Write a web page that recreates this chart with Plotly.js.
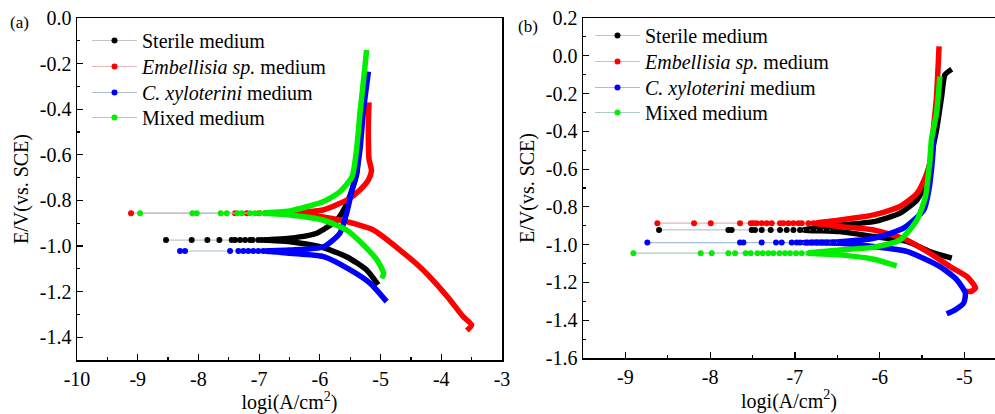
<!DOCTYPE html>
<html>
<head>
<meta charset="utf-8">
<script src="https://cdn.plot.ly/plotly-3.0.1.min.js"></script>
<style>
html,body{margin:0;padding:0;background:#fff;}
#chart{width:995px;height:414px;}
#chart svg text{font-family:"Liberation Serif","Times New Roman","DejaVu Serif",serif !important;}
</style>
</head>
<body>
<div id="chart"></div>
<script>
// ---------- Labels ----------
const seriesNames = ["Sterile medium", "<i>Embellisia sp.</i> medium", "<i>C. xyloterini</i> medium", "Mixed medium"];
const xTitle = "logi(A/cm<sup>2</sup>)";
const yTitle = "E/V(vs. SCE)";
const xTicksA = [-10, -9, -8, -7, -6, -5, -4, -3];
const xTickTextA = ["-10", "-9", "-8", "-7", "-6", "-5", "-4", "-3"];
const yTicksA = [0.0, -0.2, -0.4, -0.6, -0.8, -1.0, -1.2, -1.4];
const yTickTextA = ["0.0", "-0.2", "-0.4", "-0.6", "-0.8", "-1.0", "-1.2", "-1.4"];
const xTicksB = [-9, -8, -7, -6, -5];
const xTickTextB = ["-9", "-8", "-7", "-6", "-5"];
const yTicksB = [0.2, 0.0, -0.2, -0.4, -0.6, -0.8, -1.0, -1.2, -1.4, -1.6];
const yTickTextB = ["0.2", "0.0", "-0.2", "-0.4", "-0.6", "-0.8", "-1.0", "-1.2", "-1.4", "-1.6"];

// ---------- Panel (a) data: log i (x) and E (V vs SCE) ----------
const aSterileX = [-5.04, -5.23, -5.56, -6.0, -6.49, -6.9, -6.49, -6.05, -5.72, -5.58, -5.47, -5.39, -5.35, -5.31, -5.27];
const aSterileE = [-1.17, -1.105, -1.047, -1.003, -0.981, -0.974, -0.966, -0.944, -0.886, -0.828, -0.754, -0.681, -0.55, -0.40, -0.26];
const aSterileDotX = [-8.534, -8.111, -7.853, -7.655, -7.452, -7.397, -7.315, -7.232, -7.15, -7.106, -7.013, -6.958, -6.903];
const aSterileDotE = [-0.974, -0.974, -0.974, -0.974, -0.974, -0.974, -0.974, -0.974, -0.974, -0.974, -0.974, -0.974, -0.974];

const aEmbX = [-3.58, -3.50, -3.64, -3.90, -4.30, -4.68, -5.12, -5.67, -6.3, -6.8, -6.3, -5.95, -5.55, -5.34, -5.2, -5.15, -5.19, -5.20, -5.20, -5.19];
const aEmbE = [-1.371, -1.346, -1.31, -1.222, -1.105, -1.018, -0.93, -0.886, -0.862, -0.856, -0.852, -0.842, -0.798, -0.754, -0.71, -0.67, -0.62, -0.55, -0.45, -0.37];
const aEmbDotX = [-9.11, -7.397, -7.204, -7.0, -6.9];
const aEmbDotE = [-0.856, -0.856, -0.856, -0.856, -0.856];

const aCxyX = [-4.90, -5.17, -5.50, -5.94, -6.49, -6.9, -6.49, -5.94, -5.67, -5.56, -5.47, -5.39, -5.34, -5.28, -5.20];
const aCxyE = [-1.244, -1.164, -1.105, -1.047, -1.032, -1.022, -1.018, -1.003, -0.944, -0.857, -0.754, -0.667, -0.58, -0.40, -0.235];
const aCxyDotX = [-8.303, -8.221, -7.479, -7.342, -7.26, -7.178, -7.095, -7.013, -6.931, -6.848];
const aCxyDotE = [-1.022, -1.022, -1.022, -1.022, -1.022, -1.022, -1.022, -1.022, -1.022, -1.022];

const aMixX = [-4.98, -4.95, -5.06, -5.28, -5.56, -5.95, -6.49, -6.9, -6.49, -5.95, -5.67, -5.47, -5.39, -5.34, -5.28, -5.23];
const aMixE = [-1.142, -1.12, -1.061, -0.996, -0.93, -0.886, -0.864, -0.856, -0.846, -0.806, -0.762, -0.696, -0.564, -0.418, -0.272, -0.14];
const aMixDotX = [-8.962, -8.1, -8.028, -7.633, -7.534, -7.359, -7.287, -7.15, -7.068, -6.985, -6.903];
const aMixDotE = [-0.856, -0.856, -0.856, -0.856, -0.856, -0.856, -0.856, -0.856, -0.856, -0.856, -0.856];

// ---------- Panel (b) data ----------
const bSterileX = [-5.15, -5.41, -5.68, -6.07, -6.47, -6.9, -6.47, -6.07, -5.76, -5.56, -5.46, -5.42, -5.38, -5.33, -5.27, -5.23, -5.15];
const bSterileE = [-1.071, -1.036, -0.983, -0.957, -0.931, -0.922, -0.897, -0.878, -0.833, -0.763, -0.675, -0.604, -0.50, -0.393, -0.216, -0.10, -0.071];
const bSterileDotX = [-8.603, -7.785, -7.746, -7.51, -7.471, -7.392, -7.286, -7.176, -7.097, -7.018, -6.94, -6.861, -6.782, -6.704, -6.625, -6.546];
const bSterileDotE = [-0.922, -0.922, -0.922, -0.922, -0.922, -0.922, -0.922, -0.922, -0.922, -0.922, -0.922, -0.922, -0.922, -0.922, -0.922, -0.922];

const bEmbX = [-5.01, -4.93, -4.87, -4.97, -5.17, -5.41, -5.68, -6.07, -6.47, -6.75, -6.47, -6.07, -5.76, -5.56, -5.46, -5.41, -5.37, -5.33, -5.30];
const bEmbE = [-1.243, -1.248, -1.23, -1.169, -1.116, -1.045, -0.975, -0.922, -0.904, -0.886, -0.869, -0.842, -0.798, -0.728, -0.64, -0.569, -0.40, -0.216, 0.05];
const bEmbDotX = [-8.623, -8.19, -7.993, -7.648, -7.521, -7.49, -7.451, -7.392, -7.333, -7.274, -7.176, -7.136, -7.077, -7.018, -6.959, -6.92, -6.841, -6.782];
const bEmbDotE = [-0.886, -0.886, -0.886, -0.886, -0.886, -0.886, -0.886, -0.886, -0.886, -0.886, -0.886, -0.886, -0.886, -0.886, -0.886, -0.886, -0.886, -0.886];

const bCxyX = [-5.21, -5.11, -5.01, -4.99, -5.09, -5.29, -5.68, -6.07, -6.47, -6.9, -6.47, -6.07, -5.72, -5.48, -5.42, -5.39, -5.37, -5.36];
const bCxyE = [-1.366, -1.345, -1.31, -1.257, -1.186, -1.116, -1.036, -1.01, -0.992, -0.989, -0.984, -0.966, -0.913, -0.816, -0.71, -0.604, -0.5, -0.40];
const bCxyDotX = [-8.741, -7.648, -7.608, -7.392, -7.223, -7.156, -7.038, -6.979, -6.94, -6.861, -6.802, -6.743, -6.684, -6.625, -6.546, -6.468];
const bCxyDotE = [-0.989, -0.989, -0.989, -0.989, -0.989, -0.989, -0.989, -0.989, -0.989, -0.989, -0.989, -0.989, -0.989, -0.989, -0.989, -0.989];

const bMixX = [-5.80, -6.07, -6.47, -6.85, -6.47, -6.07, -5.76, -5.56, -5.46, -5.42, -5.41, -5.39, -5.33, -5.29];
const bMixE = [-1.112, -1.077, -1.054, -1.045, -1.028, -1.013, -0.975, -0.869, -0.745, -0.604, -0.569, -0.446, -0.304, -0.11];
const bMixDotX = [-8.906, -8.112, -7.982, -7.785, -7.706, -7.581, -7.522, -7.443, -7.38, -7.313, -7.254, -7.183, -7.117, -7.058, -6.987, -6.92, -6.822];
const bMixDotE = [-1.045, -1.045, -1.045, -1.045, -1.045, -1.045, -1.045, -1.045, -1.045, -1.045, -1.045, -1.045, -1.045, -1.045, -1.045, -1.045, -1.045];

// ---------- Styles ----------
const markColors = ["#000000", "#ff0000", "#0000ff", "#00ee00"];
const thinColors = ["#c4c4c4", "#e4b4b4", "#a9bdd6", "#a9cbc2"];
const FONT = "Liberation Serif";

const panels = [
  {xa: "x", ya: "y", legBase: 0, legX: 87, legTops: [21, 47, 73, 98],
   curves: [[aSterileX, aSterileE, aSterileDotX, aSterileDotE], [aEmbX, aEmbE, aEmbDotX, aEmbDotE], [aCxyX, aCxyE, aCxyDotX, aCxyDotE], [aMixX, aMixE, aMixDotX, aMixDotE]]},
  {xa: "x2", ya: "y2", legBase: 4, legX: 590, legTops: [16, 42, 68, 93],
   curves: [[bSterileX, bSterileE, bSterileDotX, bSterileDotE], [bEmbX, bEmbE, bEmbDotX, bEmbDotE], [bCxyX, bCxyE, bCxyDotX, bCxyDotE], [bMixX, bMixE, bMixDotX, bMixDotE]]}
];

const legendName = k => (k === 0 ? "legend" : "legend" + (k + 1));

const traces = [];
const legends = {};
panels.forEach(p => {
  p.curves.forEach((c, i) => {
    const lk = legendName(p.legBase + i);
    legends[lk] = {
      x: p.legX / 995, xanchor: "left", y: 1 - p.legTops[i] / 414, yanchor: "top",
      bgcolor: "rgba(0,0,0,0)", borderwidth: 0,
      font: {family: FONT, size: 20, color: "#000"}, itemwidth: 45
    };
    traces.push({
      x: c[0], y: c[1], xaxis: p.xa, yaxis: p.ya, type: "scatter", mode: "lines",
      line: {color: markColors[i], width: 5.5, shape: "spline", smoothing: 0.6},
      showlegend: false, hoverinfo: "skip"
    });
    traces.push({
      x: c[2], y: c[3], xaxis: p.xa, yaxis: p.ya, type: "scatter", mode: "lines+markers",
      name: seriesNames[i], legend: lk,
      line: {color: thinColors[i], width: 1.2},
      marker: {color: markColors[i], size: 6}
    });
  });
});

const axisCommon = {
  showgrid: false, zeroline: false, showline: true, linecolor: "#000", linewidth: 1.5,
  ticks: "inside", ticklen: 6, tickwidth: 1.2, tickcolor: "#000",
  tickfont: {family: FONT, size: 20, color: "#000"},
  tickmode: "array", fixedrange: true
};

const layout = Object.assign({
  width: 995, height: 414,
  margin: {l: 0, r: 0, t: 0, b: 0},
  paper_bgcolor: "#fff", plot_bgcolor: "#fff",
  font: {family: FONT, size: 20, color: "#000"},
  xaxis: Object.assign({}, axisCommon, {
    domain: [77/995, 502/995], range: [-10, -3], anchor: "y", mirror: true,
    tickvals: xTicksA, ticktext: xTickTextA,
    minor: {dtick: 0.5, ticks: "inside", ticklen: 3, tickcolor: "#000", tickwidth: 1.2},
    title: {text: xTitle, font: {family: FONT, size: 20}, standoff: 4}
  }),
  yaxis: Object.assign({}, axisCommon, {
    domain: [1 - 360/414, 1 - 18/414], range: [-1.5, 0], anchor: "x", mirror: true,
    tickvals: yTicksA, ticktext: yTickTextA,
    minor: {dtick: 0.1, ticks: "inside", ticklen: 3, tickcolor: "#000", tickwidth: 1.2},
    title: {text: yTitle, font: {family: FONT, size: 20}, standoff: 6}
  }),
  xaxis2: Object.assign({}, axisCommon, {
    domain: [583/995, 1], range: [-9.5, -4.64], anchor: "y2", mirror: true,
    tickvals: xTicksB, ticktext: xTickTextB,
    minor: {dtick: 0.5, ticks: "inside", ticklen: 3, tickcolor: "#000", tickwidth: 1.2},
    title: {text: xTitle, font: {family: FONT, size: 20}, standoff: 4}
  }),
  yaxis2: Object.assign({}, axisCommon, {
    domain: [1 - 358/414, 1 - 18/414], range: [-1.6, 0.2], anchor: "x2", mirror: false,
    tickvals: yTicksB, ticktext: yTickTextB,
    minor: {dtick: 0.1, ticks: "inside", ticklen: 3, tickcolor: "#000", tickwidth: 1.2},
    title: {text: yTitle, font: {family: FONT, size: 20}, standoff: 6}
  }),
  annotations: [
    {text: "(a)", xref: "paper", yref: "paper", x: 8/995, y: 1 - 22/414, xanchor: "left", yanchor: "middle", showarrow: false, font: {family: FONT, size: 17}},
    {text: "(b)", xref: "paper", yref: "paper", x: 516/995, y: 1 - 27/414, xanchor: "left", yanchor: "middle", showarrow: false, font: {family: FONT, size: 17}}
  ]
}, legends);

Plotly.newPlot("chart", traces, layout, {displayModeBar: false, staticPlot: true});
</script>
</body>
</html>
